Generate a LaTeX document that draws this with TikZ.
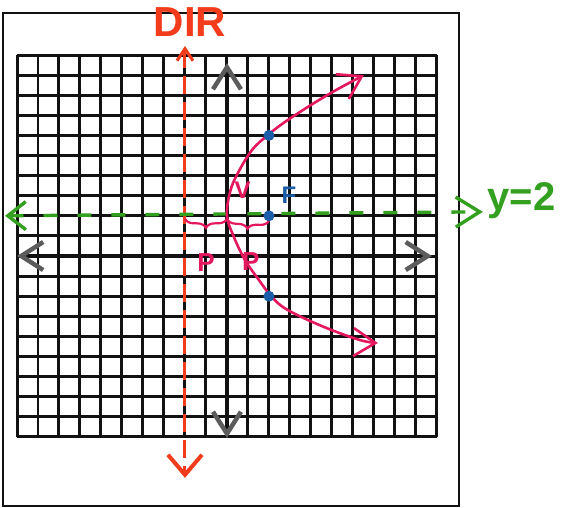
\documentclass[tikz,border=0pt]{standalone}
\usepackage{fontspec}
\setsansfont{Liberation Sans}
\usepackage{tikz}
\usetikzlibrary{arrows.meta,decorations.pathreplacing}
\definecolor{sketchInk}{HTML}{121212}
\definecolor{sketchGray}{HTML}{5C5C5C}
\definecolor{sketchRed}{HTML}{F23C1C}
\definecolor{sketchPink}{HTML}{E3185E}
\definecolor{sketchGreen}{HTML}{33A020}
\definecolor{sketchBlue}{HTML}{1B5DA8}

\begin{document}
\begin{tikzpicture}[
  x=21pt, y=20.1pt,
  font=\sffamily,
  paperframe/.style={draw=sketchInk, line width=2.2pt},
  gridink/.style={draw=sketchInk, line width=3pt, step=1},
  axisline/.style={
    draw=sketchInk,
    line width=3.2pt,
    arrows={Straight Barb[length=22pt,width=28pt,line width=4.5pt,color=sketchGray]-Straight Barb[length=22pt,width=28pt,line width=4.5pt,color=sketchGray]}
  },
  dirline/.style={
    draw=sketchRed,
    line width=3pt,
    dash pattern=on 18pt off 8pt,
    arrows={Straight Barb[length=12pt,width=16pt]-Straight Barb[length=20pt,width=34pt,line width=4pt]}
  },
  symline/.style={
    draw=sketchGreen,
    line width=3.4pt,
    dash pattern=on 14pt off 20pt,
    arrows={Straight Barb[length=18pt,width=28pt]-Straight Barb[length=24pt,width=30pt]}
  },
  parab/.style={
    draw=sketchPink,
    line width=2.6pt,
    arrows={Straight Barb[length=22pt,width=28pt]-Straight Barb[length=22pt,width=28pt]}
  },
  pbrace/.style={
    draw=sketchPink,
    line width=2.2pt,
    decorate,
    decoration={brace, mirror, amplitude=9pt}
  },
  bluedot/.style={fill=sketchBlue},
  inklabel/.style={inner sep=0pt}
]
\useasboundingbox (-10.81,12.74) rectangle (16.10,-12.49);
\fill[white] (-10.81,12.74) rectangle (16.10,-12.49);

% paper frame and grid
\draw[paperframe] (-10.67,12.09) rectangle (11.05,-12.44);
\draw[gridink] (-10,-9) grid (10,10);

% axes
\draw[axisline] (0,-9.05) -- (0,9.6);
\draw[axisline] (-10,0) -- (9.76,0);

% directrix x = -2
\draw[dirline] (-2,10.45) -- (-2,-11.04);
\node[inklabel, text=sketchRed, font=\sffamily\bfseries\fontsize{42}{42}\selectfont] (dirlabel) at (-1.76,11.64) {DIR};

% axis of symmetry y = 2
\draw[symline] (-10.57,2) -- (12.19,2.2);
\node[inklabel, anchor=west, text=sketchGreen, font=\sffamily\bfseries\fontsize{40}{40}\selectfont] (symlabel) at (12.4,2.75) {y=2};

% parabola
\coordinate (direc) at (-2,1.85);
\coordinate (vertex) at (0,2);
\coordinate (focus) at (2,2);
\coordinate (upper) at (2,6);
\coordinate (lower) at (2,-2);
\draw[parab] plot[smooth, tension=0.6] coordinates {
  (6.52,9.00) (4.62,7.91) (2.90,6.77) (1.95,6.02) (1.19,5.27) (0.52,4.13)
  (0.15,3.2) (0,2) (0.33,0.95) (0.86,-0.2) (1.52,-1.19) (2.14,-2.04)
  (2.90,-2.69) (4.62,-3.53) (6.33,-4.18) (7.19,-4.33)};

% distance p on both sides of the vertex
\draw[pbrace] (direc) -- ([yshift=-3pt]vertex);
\draw[pbrace] ([yshift=-3pt]vertex) -- ([yshift=-5pt]focus);

\fill[bluedot] (focus) circle[radius=5.5pt];
\fill[bluedot] (upper) circle[radius=5.5pt];
\fill[bluedot] (lower) circle[radius=5.5pt];

\node[inklabel, text=sketchBlue, font=\sffamily\bfseries\fontsize{24}{24}\selectfont] (flabel) at (2.95,3.0) {F};
\node[inklabel, text=sketchPink, font=\sffamily\bfseries\fontsize{24}{24}\selectfont] (vlabel) at (0.75,3.25) {V};
\node[inklabel, text=sketchPink, font=\sffamily\bfseries\fontsize{26}{26}\selectfont] (plabel) at (-1.0,-0.35) {P};
\node[inklabel, text=sketchPink, font=\sffamily\bfseries\fontsize{26}{26}\selectfont] (qlabel) at (1.14,-0.3) {P};
\end{tikzpicture}
\end{document}
